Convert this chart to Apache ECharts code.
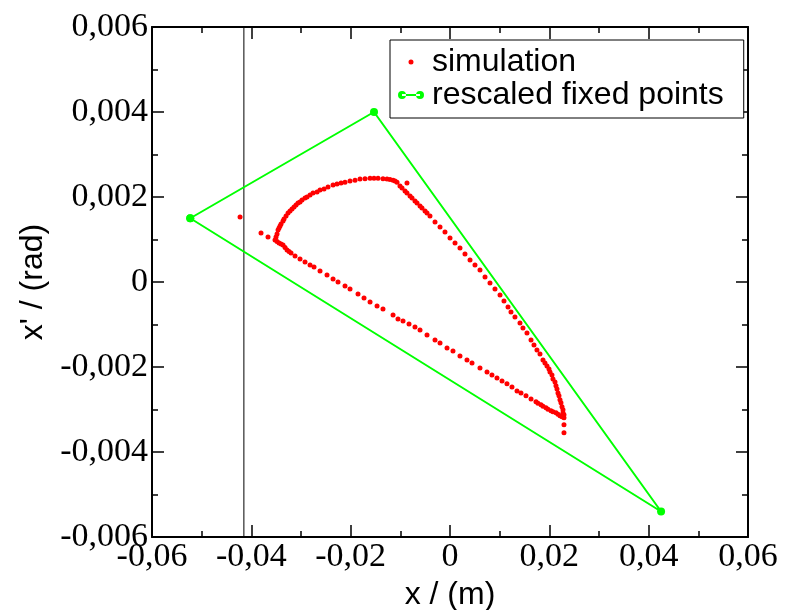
<!DOCTYPE html>
<html>
<head>
<meta charset="utf-8">
<script src="https://cdn.jsdelivr.net/npm/echarts@6/dist/echarts.min.js"></script>
<style>
  html, body { margin: 0; background: #fff; }
  #chart { width: 794px; height: 610px; }
</style>
</head>
<body>
<div id="chart"></div>
<script>
// simulated phase-space points (x in m, x' in rad)
const simX = [
  // upper arc, from the left cusp to the top
  -0.03523, -0.03482, -0.03462, -0.03422, -0.03362, -0.03301, -0.03261, -0.03181, -0.03100, -0.03020,
  -0.02919, -0.02818, -0.02677, -0.02536, -0.02355, -0.02194, -0.02013, -0.01812, -0.01610, -0.01449,
  -0.01268, -0.01147, -0.01067,
  -0.03503, -0.03442, -0.03402, -0.03342, -0.03221, -0.03140, -0.03060, -0.02979, -0.02879, -0.02758,
  -0.02617, -0.02456, -0.02275, -0.02114, -0.01912, -0.01711, -0.01530, -0.01349, -0.01208, -0.01107,
  // right branch, down to the lower cusp
  -0.01007, -0.00906, -0.00805, -0.00705, -0.00604, -0.00503, -0.00403, -0.00302, -0.00201, -0.00101,
  0.00000, 0.00101, 0.00201, 0.00302, 0.00403, 0.00503, 0.00604, 0.00705, 0.00805, 0.00906,
  0.01007, 0.01087, 0.01168, 0.01228, 0.01308, 0.01409, 0.01469, 0.01550, 0.01631, 0.01691,
  0.01751, 0.01812, 0.01872, 0.01953, 0.02013, 0.02073, 0.02134, 0.02174, 0.02214, 0.02255,
  0.02275, 0.02295,
  -0.00966, -0.00866, -0.00765, -0.00664, -0.00564, -0.00463,
  0.01912, 0.01993, 0.02053, 0.02114, 0.02154, 0.02194, 0.02234, 0.02275, 0.02295,
  // lower straight branch
  -0.03442, -0.03362, -0.03281, -0.03201, -0.03120, -0.03020, -0.02919, -0.02818, -0.02738, -0.02617,
  -0.02476, -0.02355, -0.02255, -0.02114, -0.02013, -0.01852, -0.01731, -0.01610, -0.01469, -0.01349,
  -0.01147, -0.01047, -0.00946, -0.00825, -0.00705, -0.00604, -0.00463, -0.00302, -0.00201, -0.00060,
  0.00060, 0.00201, 0.00342, 0.00443, 0.00604, 0.00745, 0.00845, 0.00946, 0.01047, 0.01147,
  0.01248, 0.01349, 0.01429, 0.01530, 0.01631, 0.01731, 0.01832, 0.01932, 0.02033, 0.02134,
  0.02214,
  -0.03482, -0.03402, -0.03321, -0.03241,
  0.01771, 0.01872, 0.01973, 0.02073, 0.02174, 0.02255,
  // stray points
  -0.04227, -0.03805, -0.03664, -0.00866, 0.02295, 0.02295
];
const simY = [
  0.000987, 0.001128, 0.001222, 0.001316, 0.001434, 0.001551, 0.001622, 0.001716, 0.001810, 0.001880,
  0.001974, 0.002045, 0.002115, 0.002186, 0.002280, 0.002327, 0.002374, 0.002421, 0.002444, 0.002444,
  0.002421, 0.002397, 0.002350,
  0.001058, 0.001269, 0.001363, 0.001481, 0.001669, 0.001763, 0.001857, 0.001927, 0.001998, 0.002092,
  0.002162, 0.002233, 0.002303, 0.002350, 0.002397, 0.002432, 0.002444, 0.002432, 0.002409, 0.002374,
  0.002256, 0.002139, 0.002021, 0.001904, 0.001786, 0.001669, 0.001551, 0.001410, 0.001293, 0.001175,
  0.001034, 0.000917, 0.000799, 0.000658, 0.000517, 0.000400, 0.000282, 0.000118, -0.000024, -0.000165,
  -0.000306, -0.000447, -0.000588, -0.000705, -0.000823, -0.000964, -0.001081, -0.001199, -0.001363, -0.001481,
  -0.001598, -0.001692, -0.001833, -0.001974, -0.002115, -0.002280, -0.002444, -0.002609, -0.002773, -0.002938,
  -0.003079, -0.003196,
  0.002209, 0.002092, 0.001974, 0.001857, 0.001739, 0.001622,
  -0.001904, -0.002045, -0.002186, -0.002350, -0.002515, -0.002679, -0.002844, -0.003008, -0.003126,
  0.000917, 0.000870, 0.000752, 0.000682, 0.000611, 0.000541, 0.000470, 0.000400, 0.000353, 0.000259,
  0.000165, 0.000071, 0.000000, -0.000094, -0.000165, -0.000282, -0.000376, -0.000470, -0.000564, -0.000635,
  -0.000776, -0.000870, -0.000917, -0.000987, -0.001058, -0.001128, -0.001246, -0.001363, -0.001434, -0.001551,
  -0.001622, -0.001739, -0.001833, -0.001904, -0.002021, -0.002115, -0.002186, -0.002256, -0.002327, -0.002397,
  -0.002468, -0.002562, -0.002609, -0.002679, -0.002750, -0.002820, -0.002891, -0.002961, -0.003032, -0.003079,
  -0.003149,
  0.000952, 0.000893, 0.000811, 0.000717,
  -0.002855, -0.002926, -0.002996, -0.003055, -0.003114, -0.003173,
  0.001528, 0.001152, 0.001058, 0.002327, -0.003361, -0.003549
];

// rescaled fixed points, closed triangle
const fixedX = [-0.0523, -0.0153, 0.0425, -0.0523];
const fixedY = [0.0015, 0.0040, -0.0054, 0.0015];

// vertical aperture line
const apertureX = [-0.0415, -0.0415];
const apertureY = [-0.006, 0.006];

const xRange = { min: -0.06, max: 0.06, interval: 0.02 };
const yRange = { min: -0.006, max: 0.006, interval: 0.002 };

const fmt = v => String(+v.toFixed(4)).replace('.', ',');
const zip = (a, b) => a.map((v, i) => [v, b[i]]);

const axisCommon = {
  axisLine: { show: true, onZero: false, lineStyle: { color: '#000', width: 2 } },
  axisTick: { show: true, inside: true, length: 12, lineStyle: { color: '#000', width: 1.5 } },
  minorTick: { show: true, splitNumber: 2, length: 6, lineStyle: { color: '#000', width: 1.5 } },
  splitLine: { show: false },
  minorSplitLine: { show: false }
};
const labelFont = { fontFamily: 'Liberation Serif', fontSize: 34, color: '#000' };
const nameFont = { fontFamily: 'Liberation Sans', fontSize: 32, color: '#000' };

const chart = echarts.init(document.getElementById('chart'), null, { renderer: 'canvas' });
chart.setOption({
  backgroundColor: '#fff',
  animation: false,
  grid: { left: 152, right: 46, top: 27, bottom: 73, containLabel: false, outerBoundsMode: 'none' },
  xAxis: [
    Object.assign({
      type: 'value', position: 'bottom', ...xRange,
      name: 'x / (m)', nameLocation: 'middle', nameGap: 42, nameTextStyle: nameFont,
      axisLabel: Object.assign({ margin: 3, formatter: fmt, showMinLabel: true, showMaxLabel: true }, labelFont)
    }, axisCommon),
    Object.assign({
      type: 'value', position: 'top', ...xRange,
      axisLabel: { show: false }
    }, axisCommon)
  ],
  yAxis: [
    Object.assign({
      type: 'value', position: 'left', ...yRange,
      name: "x' / (rad)", nameLocation: 'middle', nameGap: 91, nameRotate: 90, nameTextStyle: nameFont,
      axisLabel: Object.assign({ margin: 4, formatter: fmt, showMinLabel: true, showMaxLabel: true }, labelFont)
    }, axisCommon),
    Object.assign({
      type: 'value', position: 'right', ...yRange,
      axisLabel: { show: false }
    }, axisCommon)
  ],
  legend: {
    left: 390, top: 40, orient: 'vertical',
    backgroundColor: '#fff', borderColor: '#000', borderWidth: 1, borderRadius: 0,
    padding: [6, 20, 7, 8], itemGap: 1, itemWidth: 26, itemHeight: 8,
    textStyle: { fontFamily: 'Liberation Sans', fontSize: 32, color: '#000', padding: [0, 0, 0, 3] },
    itemStyle: { borderWidth: 0 },
    data: [
      { name: 'simulation',
        icon: 'path://M0,0L0.01,0L0,0.01Z M26,8L25.99,8L26,7.99Z M10.5,4a2.5,2.5 0 1,0 5,0a2.5,2.5 0 1,0 -5,0Z' },
      { name: 'rescaled fixed points',
        icon: 'path://M0,4a4,4 0 1,0 8,0a4,4 0 1,0 -8,0Z M18,4a4,4 0 1,0 8,0a4,4 0 1,0 -8,0Z M4,3L22,3L22,5L4,5Z' }
    ]
  },
  series: [
    {
      name: 'aperture', type: 'line', data: zip(apertureX, apertureY),
      showSymbol: false, symbol: 'none', silent: true, z: 1,
      lineStyle: { color: '#000', width: 1 }
    },
    {
      name: 'rescaled fixed points', type: 'line', data: zip(fixedX, fixedY),
      symbol: 'circle', symbolSize: 8, z: 2,
      itemStyle: { color: '#00ff00' },
      lineStyle: { color: '#00ff00', width: 2 }
    },
    {
      name: 'simulation', type: 'scatter', data: zip(simX, simY),
      symbol: 'circle', symbolSize: 5, z: 3,
      itemStyle: { color: '#ff0000', opacity: 1 }
    }
  ]
});
</script>
</body>
</html>
